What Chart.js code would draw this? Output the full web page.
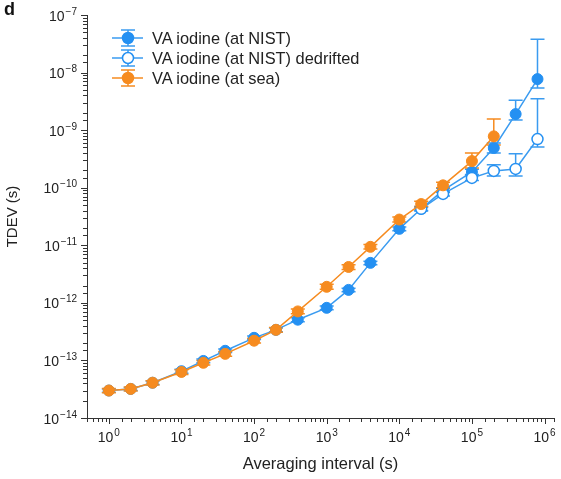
<!DOCTYPE html>
<html>
<head>
<meta charset="utf-8">
<script src="https://cdn.jsdelivr.net/npm/chart.js@4.4.1/dist/chart.umd.min.js"></script>
<style>
  html, body { margin: 0; padding: 0; background: #fff; }
  #wrap { position: relative; width: 561px; height: 479px; font-family: "Liberation Sans", Arial, sans-serif; }
  #panel { position: absolute; left: 4px; top: -1px; font-weight: bold; font-size: 18px; color: #111; }
  #legend { position: absolute; left: 111px; top: 28px; font-size: 16.4px; color: #222; }
  .row { height: 20px; display: flex; align-items: center; white-space: nowrap; }
  .row svg { width: 33px; height: 20px; margin-right: 8px; }
</style>
</head>
<body>
<div id="wrap">
  <canvas id="c" width="561" height="479"></canvas>
  <div id="panel">d</div>
  <div id="legend"></div>
</div>
<script>
// ---- data ----
const tau = [1, 2, 4, 10, 20, 40, 100, 200, 400, 1000, 2000, 4000, 1e4, 2e4, 4e4, 1e5, 2e5, 4e5, 8e5];

const nist     = [3.0e-14, 3.2e-14, 4.1e-14, 6.5e-14, 9.8e-14, 1.47e-13, 2.47e-13, 3.4e-13, 5.1e-13, 8.2e-13, 1.68e-12, 4.95e-12, 1.93e-11, 4.3e-11, 9.0e-11, 1.88e-10, 4.9e-10, 1.9e-9, 7.7e-9];
const nistHigh = [3.2e-14, 3.4e-14, 4.4e-14, 7.0e-14, 1.06e-13, 1.58e-13, 2.65e-13, 3.65e-13, 5.5e-13, 8.8e-13, 1.8e-12, 5.3e-12, 2.08e-11, 4.7e-11, 9.8e-11, 2.1e-10, 6.0e-10, 3.3e-9, 3.8e-8];
const nistLow  = [2.8e-14, 3.0e-14, 3.8e-14, 6.0e-14, 9.1e-14, 1.37e-13, 2.3e-13, 3.15e-13, 4.7e-13, 7.6e-13, 1.56e-12, 4.6e-12, 1.79e-11, 3.95e-11, 8.3e-11, 1.7e-10, 4.0e-10, 1.5e-9, 5.4e-9];

const dedriftTau  = [2e4, 4e4, 1e5, 2e5, 4e5, 8e5];
const dedrift     = [4.3e-11, 7.8e-11, 1.48e-10, 1.96e-10, 2.12e-10, 7.0e-10];
const dedriftHigh = [4.6e-11, 8.4e-11, 1.65e-10, 2.5e-10, 3.9e-10, 3.5e-9];
const dedriftLow  = [4.0e-11, 7.2e-11, 1.33e-10, 1.6e-10, 1.6e-10, 5.1e-10];

const seaTau  = [1, 2, 4, 10, 20, 40, 100, 200, 400, 1000, 2000, 4000, 1e4, 2e4, 4e4, 1e5, 2e5];
const sea     = [3.0e-14, 3.2e-14, 4.1e-14, 6.3e-14, 9.1e-14, 1.3e-13, 2.2e-13, 3.4e-13, 7.1e-13, 1.9e-12, 4.2e-12, 9.4e-12, 2.8e-11, 5.2e-11, 1.1e-10, 2.9e-10, 7.8e-10];
const seaHigh = [3.25e-14, 3.45e-14, 4.45e-14, 6.9e-14, 1.0e-13, 1.43e-13, 2.42e-13, 3.75e-13, 7.8e-13, 2.1e-12, 4.6e-12, 1.03e-11, 3.1e-11, 5.8e-11, 1.25e-10, 4.0e-10, 1.56e-9];
const seaLow  = [2.75e-14, 2.95e-14, 3.75e-14, 5.7e-14, 8.3e-14, 1.18e-13, 2.0e-13, 3.1e-13, 6.5e-13, 1.72e-12, 3.8e-12, 8.6e-12, 2.55e-11, 4.7e-11, 1.0e-10, 2.2e-10, 5.5e-10];

const seriesNames = ['VA iodine (at NIST)', 'VA iodine (at NIST) dedrifted', 'VA iodine (at sea)'];
const xTickExponents = [0, 1, 2, 3, 4, 5, 6];
const yTickExponents = [-14, -13, -12, -11, -10, -9, -8, -7];

// ---- styling ----
const BLUE = '#2490F2';
const BLUE_LINE = '#3A9BF0';
const ORANGE = '#F68B1F';
const FONT = '"Liberation Sans", Arial, sans-serif';
const TEXT = '#222';

const isPow10 = v => Math.abs(Math.log10(v) - Math.round(Math.log10(v))) < 1e-6;
const pts = (xs, ys) => xs.map((t, i) => ({x: t, y: ys[i]}));
const expText = e => String(e).replace('-', '\u2212');

const errSets = [
  {tau: tau, low: nistLow, high: nistHigh, color: BLUE_LINE},
  {tau: dedriftTau, low: dedriftLow, high: dedriftHigh, color: BLUE_LINE},
  {tau: seaTau, low: seaLow, high: seaHigh, color: ORANGE}
];

const errorBars = {
  id: 'errorBars',
  beforeDatasetsDraw(chart) {
    const {ctx, scales: {x, y}} = chart;
    ctx.save();
    ctx.lineWidth = 1.5;
    errSets.forEach(s => {
      ctx.strokeStyle = s.color;
      s.tau.forEach((t, i) => {
        const px = x.getPixelForValue(t);
        const yl = y.getPixelForValue(s.low[i]);
        const yh = y.getPixelForValue(s.high[i]);
        ctx.beginPath();
        ctx.moveTo(px, yl); ctx.lineTo(px, yh);
        ctx.moveTo(px - 7, yl); ctx.lineTo(px + 7, yl);
        ctx.moveTo(px - 7, yh); ctx.lineTo(px + 7, yh);
        ctx.stroke();
      });
    });
    ctx.restore();
  }
};

// tick marks (major longer than minor) and power-of-ten labels with real superscripts
const axisDecor = {
  id: 'axisDecor',
  afterDraw(chart) {
    const {ctx, scales: {x, y}, chartArea} = chart;
    ctx.save();
    ctx.strokeStyle = '#333';
    ctx.lineWidth = 1;
    ctx.beginPath();
    x.ticks.forEach(t => {
      const px = Math.round(x.getPixelForValue(t.value)) + 0.5;
      const len = isPow10(t.value) ? 6 : 4;
      ctx.moveTo(px, chartArea.bottom); ctx.lineTo(px, chartArea.bottom + len);
    });
    y.ticks.forEach(t => {
      const py = Math.round(y.getPixelForValue(t.value)) + 0.5;
      const len = isPow10(t.value) ? 6 : 4;
      ctx.moveTo(chartArea.left, py); ctx.lineTo(chartArea.left - len, py);
    });
    ctx.stroke();

    ctx.fillStyle = TEXT;
    const base = '14px ' + FONT, small = '10px ' + FONT;
    ctx.textAlign = 'left';
    // x labels
    xTickExponents.forEach(e => {
      const px = x.getPixelForValue(Math.pow(10, e));
      ctx.font = base; const w1 = ctx.measureText('10').width;
      ctx.font = small; const w2 = ctx.measureText(expText(e)).width;
      const x0 = px - (w1 + 1 + w2) / 2;
      const yb = chartArea.bottom + 24;
      ctx.font = base; ctx.textBaseline = 'alphabetic'; ctx.fillText('10', x0, yb);
      ctx.font = small; ctx.fillText(expText(e), x0 + w1 + 1, yb - 6);
    });
    // y labels
    yTickExponents.forEach(e => {
      const py = y.getPixelForValue(Math.pow(10, e));
      ctx.font = base; const w1 = ctx.measureText('10').width;
      ctx.font = small; const w2 = ctx.measureText(expText(e)).width;
      const xr = chartArea.left - 10;
      const x0 = xr - w2 - 1 - w1;
      ctx.font = base; ctx.textBaseline = 'alphabetic'; ctx.fillText('10', x0, py + 5.5);
      ctx.font = small; ctx.fillText(expText(e), x0 + w1 + 1, py - 0.5);
    });
    ctx.restore();
  }
};

Chart.defaults.font.family = FONT;
Chart.defaults.font.size = 14;
Chart.defaults.color = TEXT;

new Chart(document.getElementById('c'), {
  type: 'line',
  data: {
    datasets: [
      {label: seriesNames[0], data: pts(tau, nist), borderColor: BLUE_LINE, backgroundColor: BLUE,
       pointBackgroundColor: BLUE, pointBorderColor: BLUE, pointRadius: 5.5, pointBorderWidth: 1, borderWidth: 1.5, order: 2},
      {label: seriesNames[1], data: pts(dedriftTau, dedrift), borderColor: BLUE_LINE, backgroundColor: '#fff',
       pointBackgroundColor: '#fff', pointBorderColor: BLUE, pointRadius: 5.5, pointBorderWidth: 1.5, borderWidth: 1.5, order: 1},
      {label: seriesNames[2], data: pts(seaTau, sea), borderColor: ORANGE, backgroundColor: ORANGE,
       pointBackgroundColor: ORANGE, pointBorderColor: ORANGE, pointRadius: 5.5, pointBorderWidth: 1, borderWidth: 1.5, order: 0}
    ]
  },
  options: {
    responsive: false,
    animation: false,
    events: [],
    layout: {padding: {top: 15, right: 4, left: 0, bottom: 0}},
    plugins: {legend: {display: false}, tooltip: {enabled: false}},
    elements: {line: {tension: 0}},
    scales: {
      x: {
        type: 'logarithmic', min: 0.5, max: 1.35e6,
        grid: {display: false},
        border: {display: true, color: '#333', width: 1},
        ticks: {display: false, autoSkip: false, maxRotation: 0},
        title: {display: true, text: 'Averaging interval (s)', color: TEXT, font: {size: 16.5}, padding: {top: 0, bottom: 5}},
        afterFit: s => { s.height = 61; }
      },
      y: {
        type: 'logarithmic', min: 1e-14, max: 1e-7,
        grid: {display: false},
        border: {display: true, color: '#333', width: 1},
        ticks: {display: false, autoSkip: false},
        title: {display: true, text: 'TDEV (s)', color: TEXT, font: {size: 15}, padding: {top: 4, bottom: 0}},
        afterFit: s => { s.width = 87; }
      }
    }
  },
  plugins: [errorBars, axisDecor]
});

// ---- HTML legend ----
const legendStyles = [
  {fill: BLUE, stroke: BLUE, line: BLUE_LINE},
  {fill: '#fff', stroke: BLUE, line: BLUE_LINE},
  {fill: ORANGE, stroke: ORANGE, line: ORANGE}
];
const lg = document.getElementById('legend');
seriesNames.forEach((name, i) => {
  const st = legendStyles[i];
  const row = document.createElement('div');
  row.className = 'row';
  row.innerHTML =
    '<svg viewBox="0 0 33 20">' +
    '<line x1="1" y1="10" x2="32" y2="10" stroke="' + st.line + '" stroke-width="1.5"/>' +
    '<line x1="17" y1="2" x2="17" y2="18" stroke="' + st.line + '" stroke-width="1.5"/>' +
    '<line x1="10" y1="2" x2="24" y2="2" stroke="' + st.line + '" stroke-width="1.5"/>' +
    '<line x1="10" y1="18" x2="24" y2="18" stroke="' + st.line + '" stroke-width="1.5"/>' +
    '<circle cx="17" cy="10" r="5.5" fill="' + st.fill + '" stroke="' + st.stroke + '" stroke-width="1.5"/>' +
    '</svg><span>' + name + '</span>';
  lg.appendChild(row);
});
</script>
</body>
</html>
